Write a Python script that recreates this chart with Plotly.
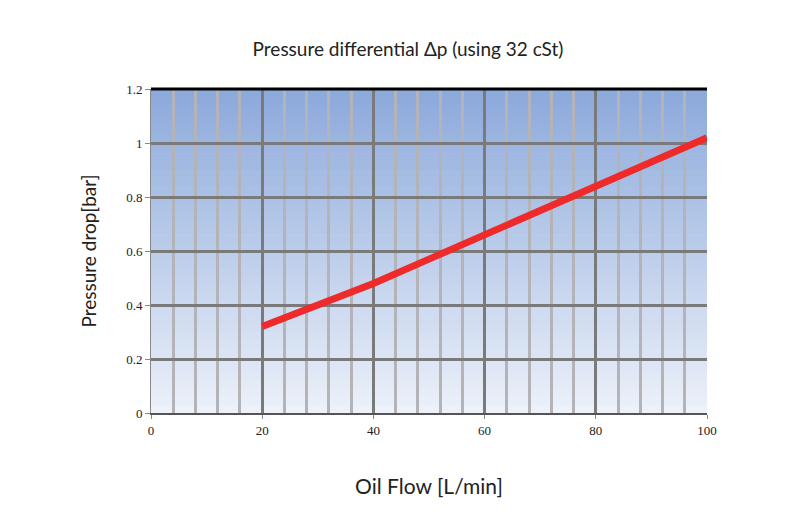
import plotly.graph_objects as go

flow = [20, 30, 40, 50, 60, 70, 80, 90, 100]
pressure = [0.32, 0.40, 0.48, 0.57, 0.66, 0.75, 0.84, 0.93, 1.02]

fig = go.Figure()
fig.add_trace(go.Scatter(x=flow, y=pressure, mode="lines",
                         line=dict(color="#ee2a2a", width=7), showlegend=False))

# gradient background: light at bottom, blue at top
n = 40
top = (141, 170, 220)
bot = (236, 241, 250)
shapes = []
for i in range(n):
    t = i / (n - 1)
    c = tuple(int(bot[k] + (top[k] - bot[k]) * t) for k in range(3))
    shapes.append(dict(type="rect", xref="x domain", yref="y domain",
                       x0=0, x1=1, y0=i / n, y1=(i + 1) / n + 0.002,
                       fillcolor="rgb(%d,%d,%d)" % c, line_width=0, layer="below"))

fig.update_layout(
    width=800, height=530,
    margin=dict(l=143, r=101, t=81, b=125),
    paper_bgcolor="white", plot_bgcolor="white",
    shapes=shapes,
    font=dict(family="Lato, Open Sans, sans-serif", color="#222"),
    title=dict(text="Pressure differential Δp (using 32 cSt)", x=0.5, xanchor="center",
               y=0.91, yref="container", font=dict(size=19)),
)
fig.update_layout(title_y=0.935)
fig.update_xaxes(range=[0, 100], dtick=20, showgrid=True, gridcolor="#7a7a7a", gridwidth=3,
                 minor=dict(dtick=4, showgrid=True, gridcolor="#b4b4b8", gridwidth=3),
                 zeroline=False, showline=True, linecolor="#555", linewidth=2,
                 ticks="outside", ticklen=4, tickcolor="#888",
                 tickfont=dict(size=13, family="Liberation Serif"),
                 title=dict(text="Oil Flow [L/min]", font=dict(size=21), standoff=43))
fig.update_yaxes(range=[0, 1.2], dtick=0.2, showgrid=True, gridcolor="#7a7a7a", gridwidth=3,
                 zeroline=False, showline=True, linecolor="#888", linewidth=1, mirror=False,
                 ticks="outside", ticklen=5, tickcolor="#888",
                 tickfont=dict(size=13, family="Liberation Serif"),
                 title=dict(text="Pressure drop[bar]", font=dict(size=19), standoff=24))
fig.add_shape(type="line", xref="x domain", yref="y domain", x0=0, x1=1, y0=1, y1=1,
              line=dict(color="black", width=3))
fig.write_html("out.html")
